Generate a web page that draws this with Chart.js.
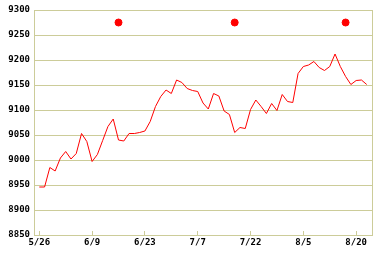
<!DOCTYPE html>
<html>
<head>
<meta charset="utf-8">
<script src="https://cdn.jsdelivr.net/npm/chart.js@4/dist/chart.umd.min.js"></script>
<style>
  html, body { margin: 0; padding: 0; background: #fff; }
</style>
</head>
<body>
<canvas id="myChart" width="382" height="258"></canvas>
<script>
// x tick labels, one every 10 trading days
var tickLabels = ["5/26", "6/9", "6/23", "7/7", "7/22", "8/5", "8/20"];
var tickIndex = [0, 10, 20, 30, 40, 50, 60];

// daily values
var prices = [
  8946, 8946, 8985, 8978, 9004, 9017, 9002, 9013, 9053, 9037,
  8997, 9011, 9039, 9067, 9082, 9040, 9038, 9053, 9053, 9055,
  9058, 9077, 9107, 9127, 9140, 9133, 9160, 9155, 9143, 9139,
  9137, 9114, 9102, 9133, 9128, 9098, 9091, 9055, 9065, 9063,
  9101, 9120, 9107, 9093, 9113, 9099, 9131, 9117, 9115, 9173,
  9187, 9190, 9197, 9185, 9179, 9187, 9212, 9187, 9167, 9151,
  9159, 9160, 9151
];

// red markers along the top
var markIndex = [15, 37, 58];
var markValue = 9275;

var gridColor = "#cccc99";

var lineData = [];
for (var i = 0; i < prices.length; i++) {
  lineData.push({ x: i, y: prices[i] });
}
var markData = [];
for (var m of markIndex) {
  markData.push({ x: m, y: markValue });
}

var frame = {
  id: 'frame',
  afterDraw: function(chart) {
    var a = chart.chartArea;
    var ctx = chart.ctx;
    ctx.save();
    ctx.strokeStyle = gridColor;
    ctx.lineWidth = 1;
    ctx.beginPath();
    ctx.moveTo(Math.round(a.right) + 0.5, a.top);
    ctx.lineTo(Math.round(a.right) + 0.5, a.bottom);
    ctx.stroke();
    ctx.restore();
  }
};

var ctx = document.getElementById("myChart").getContext('2d');
var myChart = new Chart(ctx, {
  type: 'scatter',
  data: {
    datasets: [{
      data: lineData,
      showLine: true,
      borderColor: "#ff0000",
      borderWidth: 1,
      pointRadius: 0,
      tension: 0
    }, {
      data: markData,
      showLine: false,
      backgroundColor: "#ff0000",
      borderColor: "#ff0000",
      pointRadius: 3.5,
      pointStyle: 'circle'
    }]
  },
  options: {
    responsive: false,
    animation: false,
    layout: { padding: { top: 10, right: 10, left: 0, bottom: 0 } },
    plugins: {
      legend: { display: false },
      tooltip: { enabled: false }
    },
    scales: {
      x: {
        type: 'linear',
        min: -1,
        max: 63,
        afterBuildTicks: function(scale) {
          scale.ticks = tickIndex.map(function(v) { return { value: v }; });
        },
        afterFit: function(scale) { scale.height = 23; },
        ticks: {
          autoSkip: false,
          maxRotation: 0,
          padding: 6,
          color: "#000",
          font: { family: "DejaVu Sans Mono", size: 9, weight: 'bold' },
          callback: function(v) {
            var k = tickIndex.indexOf(v);
            return k >= 0 ? tickLabels[k] : '';
          }
        },
        grid: {
          drawOnChartArea: false,
          color: gridColor,
          tickLength: -4
        },
        border: { color: gridColor }
      },
      y: {
        min: 8850,
        max: 9300,
        afterFit: function(scale) { scale.width = 34; },
        ticks: {
          stepSize: 50,
          padding: 4,
          color: "#000",
          font: { family: "DejaVu Sans Mono", size: 9, weight: 'bold' },
          callback: function(v) { return String(v); }
        },
        grid: {
          color: gridColor,
          drawTicks: false
        },
        border: { color: gridColor }
      }
    }
  },
  plugins: [frame]
});
</script>
</body>
</html>
